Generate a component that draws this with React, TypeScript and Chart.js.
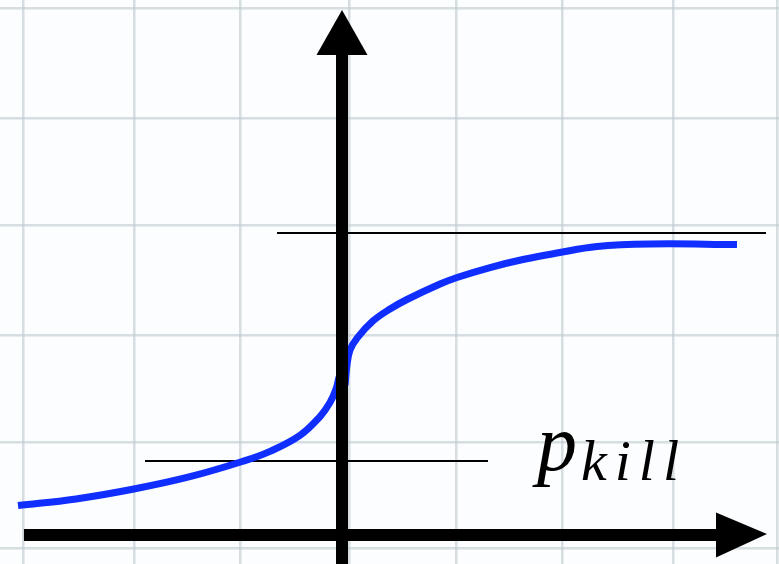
import { useEffect, useRef } from 'react';
import { Chart, registerables } from 'chart.js';

Chart.register(...registerables);

// Response curve, drawn in two branches that meet at the vertical axis.
const leftBranchX = [-2.992, -2.456, -1.921, -1.404, -0.914, -0.665, -0.388, -0.203, -0.111, -0.055, -0.028];
const leftBranchY = [0.282, 0.343, 0.435, 0.549, 0.692, 0.784, 0.932, 1.106, 1.236, 1.361, 1.472];
const rightBranchX = [0.028, 0.046, 0.074, 0.139, 0.286, 0.443, 0.6, 0.905, 1.062, 1.367, 1.671, 1.985, 2.355, 2.844, 3.647];
const rightBranchY = [1.398, 1.583, 1.722, 1.833, 1.991, 2.102, 2.19, 2.333, 2.394, 2.486, 2.56, 2.62, 2.681, 2.704, 2.699];

// Upper asymptote and the p_kill level
const upperLineX = [-0.6, 3.915];
const upperLineY = 2.806;
const killLineX = [-1.819, 1.348];
const killLineY = 0.694;

// Graph-paper grid positions
const gridX = [-2.946, -1.921, -0.942, 0.065, 1.053, 2.031, 3.056, 4.02];
const gridY = [4.889, 3.87, 2.88, 1.861, 0.87, -0.111];

// Visible window and axis extents
const xRange = [-3.158, 4.035];
const yRange = [-0.259, 4.963];
const axisXEnds = [-2.937, 3.924];
const axisYTop = 4.87;

const labelMain = 'p';
const labelSub = 'kill';
const labelAt = { x: 1.8, y: 0.611 };

const toPoints = (xs: number[], ys: number[]) => xs.map((x, i) => ({ x, y: ys[i] }));

const axesPlugin = {
  id: 'arrowAxes',
  afterDatasetsDraw(chart: any) {
    const { ctx, scales, chartArea } = chart;
    const xs = scales.x;
    const ys = scales.y;
    const ox = xs.getPixelForValue(0);
    const oy = ys.getPixelForValue(0);
    ctx.save();
    ctx.fillStyle = '#000';
    ctx.strokeStyle = '#000';
    ctx.lineWidth = 12;
    ctx.lineCap = 'butt';

    // vertical axis with arrow head
    const yTip = ys.getPixelForValue(axisYTop);
    const headLenY = 45;
    const headHalfY = 25.5;
    ctx.beginPath();
    ctx.moveTo(ox, chartArea.bottom);
    ctx.lineTo(ox, yTip + headLenY - 1);
    ctx.stroke();
    ctx.beginPath();
    ctx.moveTo(ox, yTip);
    ctx.lineTo(ox - headHalfY, yTip + headLenY);
    ctx.lineTo(ox + headHalfY, yTip + headLenY);
    ctx.closePath();
    ctx.fill();

    // horizontal axis with arrow head
    const xStart = xs.getPixelForValue(axisXEnds[0]);
    const xTip = xs.getPixelForValue(axisXEnds[1]);
    const headLenX = 51;
    const headHalfX = 22.5;
    const ay = oy - 1;
    ctx.beginPath();
    ctx.moveTo(xStart, ay);
    ctx.lineTo(xTip - headLenX + 1, ay);
    ctx.stroke();
    ctx.beginPath();
    ctx.moveTo(xTip, ay - 1);
    ctx.lineTo(xTip - headLenX, ay - headHalfX);
    ctx.lineTo(xTip - headLenX, ay + headHalfX);
    ctx.closePath();
    ctx.fill();

    // p_kill label
    const lx = xs.getPixelForValue(labelAt.x);
    const ly = ys.getPixelForValue(labelAt.y);
    ctx.textBaseline = 'alphabetic';
    ctx.textAlign = 'left';
    ctx.font = 'italic 80px "Liberation Serif", serif';
    ctx.fillText(labelMain, lx, ly);
    const pw = ctx.measureText(labelMain).width;
    ctx.font = 'italic 58px "Liberation Serif", serif';
    (ctx as any).letterSpacing = '8px';
    ctx.fillText(labelSub, lx + pw + 4, ly + 10);
    ctx.restore();
  },
};

const gridScale = (range: number[], ticks: number[]) => ({
  type: 'linear' as const,
  min: range[0],
  max: range[1],
  ticks: { display: false },
  border: { display: false },
  grid: { color: 'rgba(190, 202, 206, 0.6)', lineWidth: 2.5, drawTicks: false },
  afterBuildTicks: (scale: any) => {
    scale.ticks = ticks.map((value) => ({ value }));
  },
});

export default function App() {
  const canvasRef = useRef<HTMLCanvasElement | null>(null);

  useEffect(() => {
    if (!canvasRef.current) return;
    const blue = '#0f2eff';
    const curveStyle = { borderColor: blue, borderWidth: 7, pointRadius: 0, tension: 0.4 };
    const chart = new Chart(canvasRef.current, {
      type: 'line',
      data: {
        datasets: [
          { label: 'left branch', data: toPoints(leftBranchX, leftBranchY), ...curveStyle },
          { label: 'right branch', data: toPoints(rightBranchX, rightBranchY), ...curveStyle },
          {
            label: 'upper level',
            data: upperLineX.map((x) => ({ x, y: upperLineY })),
            borderColor: '#000',
            borderWidth: 2,
            pointRadius: 0,
          },
          {
            label: 'p_kill',
            data: killLineX.map((x) => ({ x, y: killLineY })),
            borderColor: '#000',
            borderWidth: 2,
            pointRadius: 0,
          },
        ],
      },
      options: {
        animation: false,
        responsive: false,
        layout: { padding: 0, autoPadding: false },
        plugins: { legend: { display: false }, tooltip: { enabled: false } },
        scales: {
          x: gridScale(xRange, gridX),
          y: gridScale(yRange, gridY),
        },
      },
      plugins: [axesPlugin],
    });
    return () => chart.destroy();
  }, []);

  return (
    <div style={{ position: 'absolute', left: 0, top: 0, width: 779, height: 564, background: '#fbfdfe' }}>
      <canvas ref={canvasRef} width={779} height={564} style={{ display: 'block' }} />
    </div>
  );
}
